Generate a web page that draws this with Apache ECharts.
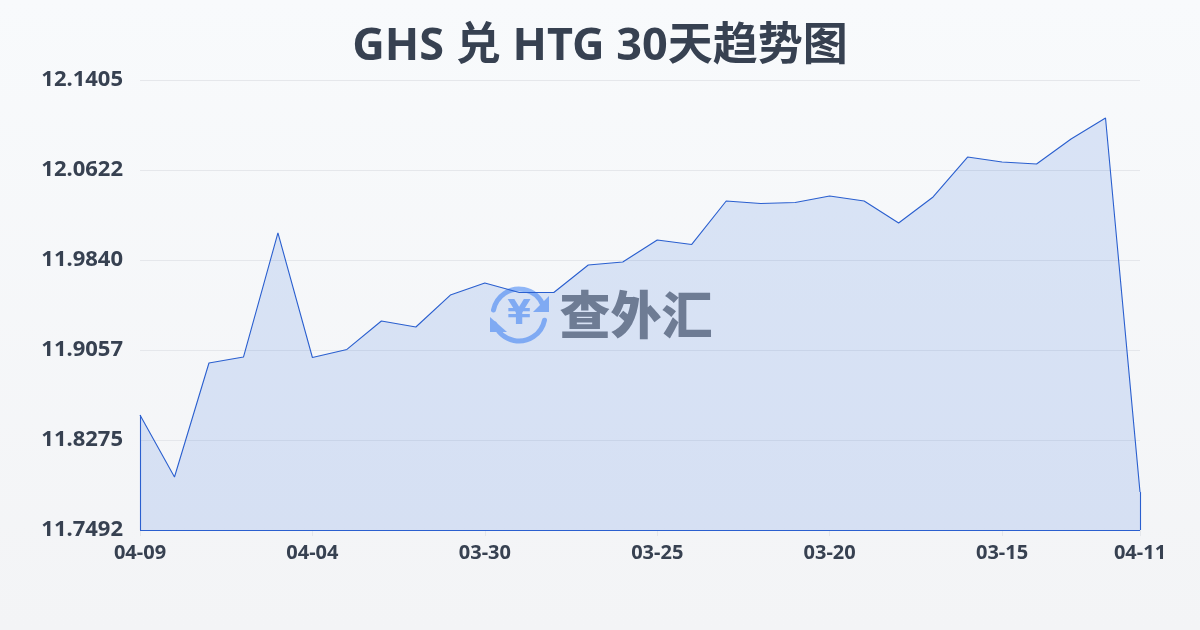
<!DOCTYPE html>
<html><head><meta charset="utf-8">
<style>html,body{margin:0;padding:0;width:1200px;height:630px;overflow:hidden}#c{width:1200px;height:630px}</style>
<script src="https://cdn.jsdelivr.net/npm/echarts@6/dist/echarts.min.js"></script>
</head><body><div id="c"></div>
<script>
const titleText = 'GHS 兑 HTG 30天趋势图';
const categories = ['04-09','04-08','04-07','04-06','04-05','04-04','04-03','04-02','04-01','03-31',
  '03-30','03-29','03-28','03-27','03-26','03-25','03-24','03-23','03-22','03-21',
  '03-20','03-19','03-18','03-17','03-16','03-15','03-14','03-13','03-12','04-11'];
const rates = [11.8492,11.7953,11.8944,11.8996,12.0075,11.8992,11.9062,11.9309,11.9257,11.9535,
  11.9640,11.9557,11.9557,11.9796,11.9822,12.0014,11.9975,12.0353,12.0331,12.0340,
  12.0396,12.0353,12.0162,12.0388,12.0735,12.0692,12.0675,12.0892,12.1075,11.7822];
const yTicks = [11.7492,11.8275,11.9057,11.9840,12.0622,12.1405];
const shownLabels = [0,5,10,15,20,25,29];

const font = '"Noto Sans","Noto Sans CJK SC",sans-serif';
const lineColor = '#2a5fcf';
const last = categories.length - 1;
const yMin = yTicks[0], yMax = yTicks[yTicks.length - 1];
const chart = echarts.init(document.getElementById('c'));
const logo = '#8fb6f7';
chart.setOption({
  animation:false,
  backgroundColor:new echarts.graphic.LinearGradient(0,0,0,1,[{offset:0,color:'#f8fafc'},{offset:1,color:'#f3f4f6'}]),
  title:{text:titleText,left:'center',top:20,textStyle:{fontFamily:font,fontSize:45,fontWeight:700,color:'#374151'}},
  grid:{left:140,right:60,top:80,bottom:100},
  xAxis:{type:'category',boundaryGap:false,data:categories,
    axisLine:{show:false},
    axisTick:{show:true,alignWithLabel:true,length:6,lineStyle:{color:'#e5e7eb'},interval:(i)=>shownLabels.includes(i)},
    axisLabel:{interval:(i)=>shownLabels.includes(i),margin:13,fontFamily:font,fontSize:20,fontWeight:700,color:'#374151',hideOverlap:false,showMinLabel:true,showMaxLabel:true},
    splitLine:{show:false}},
  yAxis:{type:'value',min:yMin,max:yMax,
    axisLine:{show:false},axisTick:{show:false,customValues:yTicks},
    axisLabel:{customValues:yTicks,margin:17,fontFamily:font,fontSize:22,fontWeight:700,color:'#374151',formatter:v=>v.toFixed(4)},
    splitLine:{show:true,lineStyle:{color:'#e5e7eb',width:1}}},
  series:[{type:'line',data:rates,symbol:'none',smooth:false,
    lineStyle:{color:lineColor,width:1.1},
    areaStyle:{origin:'start',color:'rgba(37,99,220,0.2)'},
    markLine:{silent:true,symbol:'none',label:{show:false},lineStyle:{color:lineColor,width:1.1,type:'solid'},
      data:[
        [{coord:[0,yMin]},{coord:[0,rates[0]]}],
        [{coord:[last,yMin]},{coord:[last,rates[last]]}],
        [{coord:[0,yMin]},{coord:[last,yMin]}]
      ]}
  }],
  graphic:[
    {type:'group',z:100,children:[
      {type:'arc',shape:{cx:519,cy:315,r:26,startAngle:-2.95,endAngle:-0.35},style:{stroke:logo,lineWidth:5,fill:null,lineCap:'round'}},
      {type:'arc',shape:{cx:519,cy:315,r:26,startAngle:0.2,endAngle:2.8},style:{stroke:logo,lineWidth:5,fill:null,lineCap:'round'}},
      {type:'polygon',shape:{points:[[549,312],[533,312],[549,296]]},style:{fill:logo}},
      {type:'polygon',shape:{points:[[490,317],[507,332],[490,332]]},style:{fill:logo}},
      {type:'text',style:{x:519,y:315,text:'¥',align:'center',verticalAlign:'middle',font:'700 34px "DejaVu Sans",sans-serif',fill:logo}},
      {type:'text',style:{x:636,y:315,text:'查外汇',align:'center',verticalAlign:'middle',font:'900 51px "Noto Sans CJK SC",sans-serif',fill:'#7b8089'}}
    ]}
  ]
});
</script></body></html>
